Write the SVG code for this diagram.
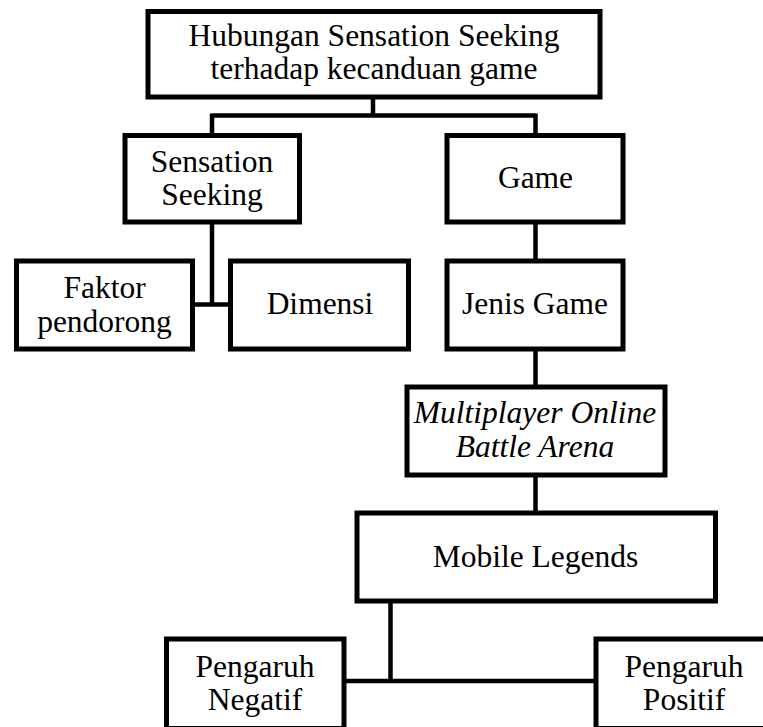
<svg xmlns="http://www.w3.org/2000/svg" width="763" height="727" viewBox="0 0 763 727">
<style>
  .box { fill: #ffffff; stroke: #000000; stroke-width: 5; }
  .lbl { font-family: "Liberation Serif", "Times New Roman", serif; font-size: 31.5px; fill: #000000; text-anchor: middle; }
  .it { font-style: italic; }
  .con { fill: none; stroke: #000000; stroke-width: 4.5; }
</style>
<rect width="763" height="727" fill="#ffffff"/>
<g id="connectors">
  <path class="con" d="M373,97 V115.5 M212,115.5 H535.5 M212,113.5 V135.5 M535.5,113.5 V135.5"/>
  <path class="con" d="M212,222 V304.5 M193,304.5 H230.5"/>
  <path class="con" d="M535.5,222 V261 M535.5,349 V387 M535.5,475 V513"/>
  <path class="con" d="M390.5,601 V681 M344,681 H596"/>
</g>
<g id="root">
  <rect class="box" x="148" y="11.5" width="452" height="85.5"/>
  <text class="lbl" x="374" y="46">Hubungan Sensation Seeking</text>
  <text class="lbl" x="374" y="79">terhadap kecanduan game</text>
</g>
<g id="sensation">
  <rect class="box" x="125" y="135.5" width="174.5" height="86.5"/>
  <text class="lbl" x="212" y="171.7">Sensation</text>
  <text class="lbl" x="212" y="205">Seeking</text>
</g>
<g id="game">
  <rect class="box" x="447" y="135.5" width="176" height="86.5"/>
  <text class="lbl" x="535.5" y="188">Game</text>
</g>
<g id="faktor">
  <rect class="box" x="16.5" y="261" width="176" height="88"/>
  <text class="lbl" x="104.5" y="298.3">Faktor</text>
  <text class="lbl" x="104.5" y="331.5">pendorong</text>
</g>
<g id="dimensi">
  <rect class="box" x="230.5" y="261" width="178" height="88"/>
  <text class="lbl" x="320" y="314">Dimensi</text>
</g>
<g id="jenis">
  <rect class="box" x="447" y="261" width="176" height="88"/>
  <text class="lbl" x="535" y="314">Jenis Game</text>
</g>
<g id="moba">
  <rect class="box" x="407" y="387" width="258" height="88"/>
  <text class="lbl it" x="535" y="423.3">Multiplayer Online</text>
  <text class="lbl it" x="535" y="456.7">Battle Arena</text>
</g>
<g id="mobile">
  <rect class="box" x="357" y="513" width="358.5" height="88"/>
  <text class="lbl" x="535.5" y="566.7">Mobile Legends</text>
</g>
<g id="negatif">
  <rect class="box" x="166.5" y="639" width="177.5" height="89.5"/>
  <text class="lbl" x="255" y="676.7">Pengaruh</text>
  <text class="lbl" x="255" y="710">Negatif</text>
</g>
<g id="positif">
  <rect class="box" x="596" y="639" width="176" height="89.5"/>
  <text class="lbl" x="684" y="676.7">Pengaruh</text>
  <text class="lbl" x="684" y="710">Positif</text>
</g>
</svg>
